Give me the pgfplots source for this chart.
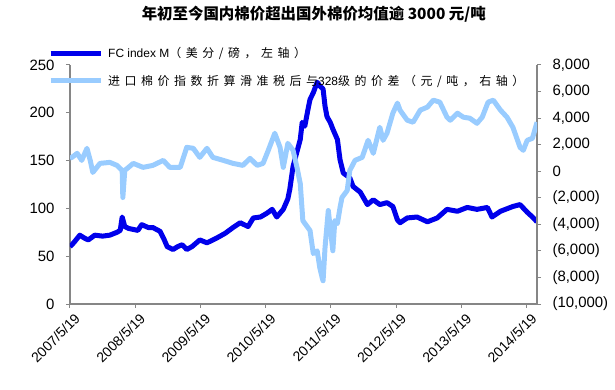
\documentclass[border=0pt]{standalone}
\usepackage{fontspec}
\setmainfont{Liberation Sans}
\newfontfamily\cjk{Noto Sans CJK SC}
\newfontfamily\cjkleg[LetterSpace=38]{Noto Sans CJK SC}
\usepackage{pgfplots}
\pgfplotsset{compat=1.18}
\definecolor{dblue}{RGB}{0,0,235}
\definecolor{lblue}{RGB}{153,204,255}
\definecolor{axgray}{RGB}{134,134,134}
\begin{document}
\begin{tikzpicture}
\path[use as bounding box] (-70bp,-86bp) rectangle (545bp,304bp);
\begin{axis}[
  scale only axis, width=467bp, height=239bp,
  xmin=0, xmax=7.16, ymin=0, ymax=250,
  axis x line*=bottom, axis y line*=left,
  axis line style={axgray, line width=1.5bp},
  x axis line style={line width=2.5bp},
  xtick={0,1,2,3,4,5,6,7},
  xticklabels={2007/5/19,2008/5/19,2009/5/19,2010/5/19,2011/5/19,2012/5/19,2013/5/19,2014/5/19},
  ytick={0,50,100,150,200,250},
  tick align=outside, major tick length=4bp,
  tick style={axgray, line width=1bp},
  ticklabel style={font=\fontsize{15}{18}\selectfont},
  /pgf/number format/assume math mode=true,
  xticklabel style={rotate=45, anchor=east, xshift=3bp, yshift=-11bp, font=\fontsize{14}{17}\selectfont},
  yticklabel style={xshift=-8bp},
  title={\cjk\bfseries 年初至今国内棉价超出国外棉价均值逾 3000 元/吨},
  title style={at={(0.522,1)}, anchor=center, yshift=45bp, font=\fontsize{15.5}{18}\selectfont},
]
\addplot[dblue, line width=5bp, line join=round] coordinates {
(0,60)(0.03,62)(0.08,66)(0.15,72)(0.22,69)(0.28,67)(0.38,72)(0.50,71)(0.61,72)(0.72,75)(0.77,77)(0.80,91)(0.84,81)(0.90,79)(0.97,78)(1.04,77)(1.10,83)(1.20,80)(1.27,80)(1.38,76)(1.44,68)(1.49,60)(1.58,57)(1.65,60)(1.72,62)(1.79,57)(1.87,60)(1.99,67)(2.10,64)(2.25,69)(2.38,74)(2.50,80)(2.61,85)(2.73,81)(2.81,90)(2.92,91)(3.02,95)(3.10,99)(3.17,91)(3.27,99)(3.34,110)(3.37,120)(3.42,144)(3.53,172)(3.56,190)(3.60,186)(3.65,204)(3.68,214)(3.73,221)(3.79,232)(3.83,228)(3.88,225)(3.91,207)(3.94,196)(3.99,190)(4.03,183)(4.10,172)(4.14,151)(4.19,137)(4.29,132)(4.34,123)(4.45,117)(4.56,104)(4.65,109)(4.75,104)(4.86,106)(4.95,102)(5.02,88)(5.06,85)(5.17,90)(5.32,91)(5.48,86)(5.63,90)(5.78,99)(5.94,97)(6.09,101)(6.24,99)(6.40,101)(6.47,91)(6.60,97)(6.79,102)(6.90,104)(7.01,96)(7.09,91)(7.16,86)
};
\end{axis}
\begin{axis}[
  scale only axis, width=467bp, height=239bp,
  xmin=0, xmax=7.16, ymin=-10000, ymax=8000,
  axis x line=none, axis y line*=right,
  axis line style={axgray, line width=1.5bp},
  scaled y ticks=false,
  ytick={-10000,-8000,-6000,-4000,-2000,0,2000,4000,6000,8000},
  yticklabels={{(10,000)},{(8,000)},{(6,000)},{(4,000)},{(2,000)},0,{2,000},{4,000},{6,000},{8,000}},
  tick align=outside, major tick length=4bp,
  tick style={axgray, line width=1bp},
  ticklabel style={font=\fontsize{15}{18}\selectfont},
  yticklabel style={anchor=west, xshift=8bp},
  legend style={at={(0,1)}, anchor=west, xshift=-22bp, yshift=-2bp, draw=none, fill=none,
    inner xsep=0pt, inner ysep=0pt, row sep=16bp, column sep=5bp,
    nodes={inner sep=0pt, font=\fontsize{12}{14}\selectfont}},
  legend cell align=left,
  legend image code/.code={\draw[#1] (0bp,0bp) -- (50bp,0bp);},
]
\addlegendimage{dblue, line width=5bp}
\addlegendentry{FC index M{\cjkleg （美分/磅，左轴）}}
\addplot[lblue, line width=5bp, line join=round] coordinates {
(0,1000)(0.03,1045)(0.11,1347)(0.18,818)(0.26,1725)(0.31,818)(0.35,-90)(0.46,590)(0.61,666)(0.72,440)(0.80,60)(0.81,-1980)(0.84,60)(0.97,590)(1.12,290)(1.27,440)(1.43,818)(1.53,290)(1.69,290)(1.79,1800)(1.89,1725)(1.99,1045)(2.10,1725)(2.19,1045)(2.35,818)(2.50,590)(2.65,440)(2.76,970)(2.87,440)(2.96,590)(3.04,1574)(3.14,2860)(3.22,1800)(3.27,290)(3.34,2100)(3.42,1574)(3.48,290)(3.53,-920)(3.57,-3720)(3.68,-4470)(3.73,-6200)(3.79,-6000)(3.83,-7270)(3.87,-8100)(3.88,-8250)(3.91,-5760)(3.96,-2960)(3.99,-4250)(4.03,-5990)(4.06,-3720)(4.10,-3940)(4.14,-2735)(4.17,-1980)(4.25,-1450)(4.29,60)(4.37,818)(4.48,1045)(4.57,2330)(4.65,1347)(4.75,3310)(4.80,2330)(4.86,2860)(4.95,4370)(5.02,5130)(5.06,4600)(5.17,3840)(5.26,3690)(5.37,4600)(5.48,4830)(5.57,5350)(5.67,5200)(5.78,4070)(5.83,3840)(5.94,4370)(6.03,4070)(6.13,3990)(6.24,3610)(6.32,4070)(6.41,5200)(6.49,5350)(6.60,4600)(6.70,4070)(6.79,3310)(6.90,1800)(6.95,1574)(7.01,2330)(7.09,2480)(7.16,3690)
};
\addlegendentry{{\cjkleg 进口棉价指数折算滑准税后与}328{\cjkleg 级的价差（元/吨，右轴）}}
\end{axis}
\end{tikzpicture}
\end{document}
